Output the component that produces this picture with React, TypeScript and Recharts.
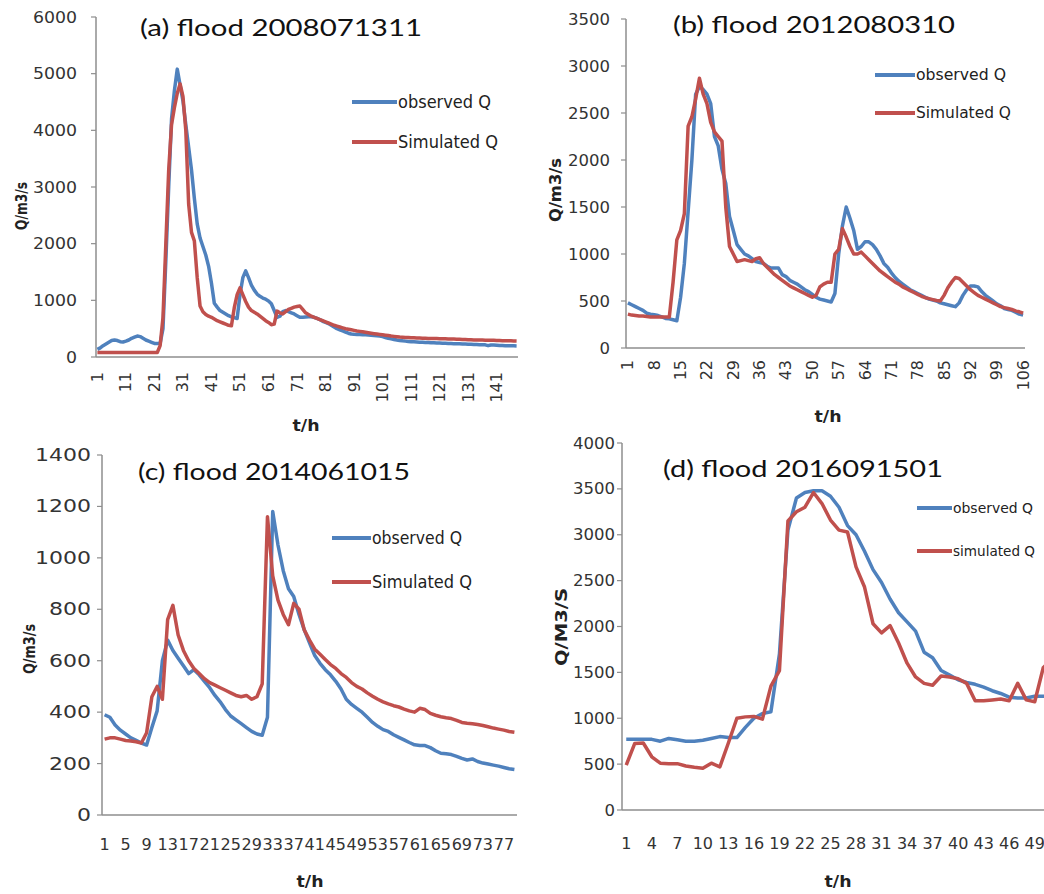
import React from 'react';
import { LineChart, Line, XAxis, YAxis } from 'recharts';

const BLUE = '#4F81BD';
const RED = '#C0504D';
const AXIS = '#8E8E8E';
const TXT = '#333333';
const FONT = '"DejaVu Sans", sans-serif';

// (a) flood 2008071311, t = 1..148
const aObserved = [
  135, 160, 200, 230, 260, 290, 300, 290, 270, 265,
  280, 300, 330, 350, 370, 360, 330, 300, 280, 260,
  240, 238, 240, 500, 1700, 3000, 4200, 4700, 5080, 4800,
  4520, 4100, 3700, 3300, 2800, 2350, 2100, 1950, 1800, 1600,
  1300, 950, 880, 820, 790, 760, 730, 710, 695, 680,
  1100, 1400, 1520, 1400, 1270, 1180, 1110, 1070, 1040, 1020,
  990, 940, 820, 700, 720, 800, 820, 800, 780, 760,
  730, 700, 700, 705, 710, 710, 700, 680, 660, 630,
  610, 590, 560, 530, 500, 480, 460, 440, 420, 405,
  400, 398, 396, 394, 392, 390, 385, 380, 375, 370,
  360, 345, 330, 320, 310, 300, 292, 285, 280, 275,
  270, 268, 265, 262, 260, 258, 255, 252, 250, 248,
  246, 244, 242, 240, 238, 236, 234, 232, 230, 228,
  226, 224, 222, 220, 218, 216, 214, 200, 212, 210,
  208, 205, 202, 200, 200, 200, 198, 196,
];
const aSimulated = [
  80, 80, 80, 80, 80, 80, 80, 80, 80, 80,
  80, 80, 80, 80, 80, 80, 80, 80, 80, 80,
  80, 80, 200, 700, 2000, 3300, 4100, 4400, 4650, 4820,
  4600, 4000, 2700, 2200, 2050, 1400, 900, 800, 750, 720,
  700, 670, 640, 620, 600, 580, 560, 550, 870, 1100,
  1220, 1100, 980, 880, 820, 790, 760, 720, 680, 640,
  610, 570, 580, 810, 780, 760, 800, 840, 860, 880,
  890, 900, 840, 780, 750, 720, 700, 680, 660, 640,
  620, 600, 580, 560, 545, 530, 515, 500, 490, 480,
  470, 460, 452, 444, 436, 428, 420, 412, 405, 398,
  392, 385, 378, 370, 364, 358, 352, 348, 345, 342,
  340, 338, 336, 334, 332, 330, 328, 327, 326, 325,
  324, 322, 320, 319, 318, 316, 314, 312, 310, 308,
  306, 304, 302, 300, 299, 298, 297, 296, 295, 294,
  292, 290, 288, 287, 286, 285, 284, 283,
];
const aYTicks = [0, 1000, 2000, 3000, 4000, 5000, 6000];

// (b) flood 2012080310, t = 1..106
const bObserved = [
  480, 460, 440, 420, 400, 370, 360, 355, 345, 330,
  315, 310, 300, 290, 540, 900, 1450, 2000, 2700, 2780,
  2750, 2700, 2600, 2250, 2150, 1900, 1750, 1400, 1250, 1100,
  1050, 1000, 980, 950, 920, 910, 900, 870, 850, 850,
  850, 780, 760, 720, 700, 680, 650, 620, 600, 570,
  540, 520, 510, 500, 490, 580, 1000, 1300, 1500, 1380,
  1250, 1050, 1080, 1130, 1130, 1100, 1050, 980, 900, 860,
  800, 750, 710, 680, 650, 620, 600, 580, 560, 540,
  520, 510, 500, 480, 470, 460, 450, 440, 480, 560,
  620, 660, 660, 650, 600, 560, 530, 500, 470, 450,
  420, 410, 400, 380, 360, 350,
];
const bSimulated = [
  360, 350, 345, 340, 340, 335, 330, 330, 330, 330,
  330, 330, 700, 1150, 1250, 1430, 2360, 2460, 2650, 2870,
  2700, 2600, 2400, 2300, 2250, 2200, 1500, 1080, 1000, 920,
  930, 940, 930, 920, 950, 960, 900, 860, 820, 780,
  750, 720, 690, 660, 640, 620, 600, 580, 560, 540,
  560, 650, 680, 700, 700, 1000, 1050, 1270, 1180, 1080,
  1000, 1000, 1020, 980, 940, 900, 860, 820, 790, 760,
  730, 700, 680, 650, 630, 610, 590, 570, 550, 535,
  525, 515, 505, 500, 560, 640, 700, 750, 740, 700,
  660, 620, 590, 560, 540, 520, 500, 480, 460, 440,
  430, 420, 410, 395, 385, 370,
];
const bYTicks = [0, 500, 1000, 1500, 2000, 2500, 3000, 3500];

// (c) flood 2014061015, t = 1..79
const cObserved = [
  390, 380, 350, 330, 315, 300, 290, 280, 272, 340,
  405, 600, 680, 640, 610, 580, 550, 565, 545, 520,
  495, 465, 440, 410, 385, 370, 355, 340, 325, 315,
  310, 380, 1180, 1050, 950, 880, 850, 780, 720, 670,
  620, 590, 565, 545, 520, 490, 450, 430, 415, 400,
  380, 360, 345, 332, 325, 312, 302, 292, 282, 273,
  270, 270, 262, 250, 240, 238, 235, 228, 220, 214,
  218, 208, 202, 198, 194, 190, 185, 180, 177,
];
const cSimulated = [
  295, 300, 300, 295, 290, 288, 285, 280, 320, 460,
  500, 450, 760, 815, 700, 640, 600, 570, 550, 530,
  515, 505, 495, 485, 475, 465, 460, 465, 450, 460,
  510, 1160, 930, 836, 780, 740, 823, 800, 720, 680,
  645, 625, 605, 585, 570, 550, 535, 515, 500, 490,
  475, 462, 450, 440, 432, 425, 420, 412, 405, 400,
  415, 410, 395, 388, 382, 378, 375, 368, 360, 357,
  355, 352, 348, 343, 338, 334, 330, 325, 322,
];
const cYTicks = [0, 200, 400, 600, 800, 1000, 1200, 1400];

// (d) flood 2016091501, t = 1..51 (the right end is cut off in the figure)
const dObserved = [
  770, 770, 770, 770, 750, 780, 765, 750, 750, 760,
  780, 800, 790, 790, 900, 1000, 1050, 1070, 1700, 3050,
  3400, 3460, 3480, 3480, 3420, 3300, 3100, 3000, 2820, 2620,
  2480, 2300, 2150, 2050, 1950, 1720, 1660, 1520, 1470, 1420,
  1390, 1370, 1340, 1300, 1270, 1230, 1220, 1220, 1240, 1240,
  1250,
];
const dSimulated = [
  490, 726, 730, 580, 510, 505, 505, 480, 465, 455,
  510, 470, 730, 1000, 1015, 1020, 990, 1350, 1520, 3150,
  3250, 3300, 3460, 3340, 3160, 3050, 3030, 2650, 2430, 2030,
  1930, 2010, 1820, 1600, 1450, 1380, 1360, 1460, 1450, 1430,
  1380, 1190, 1190, 1200, 1210, 1190, 1380, 1200, 1180, 1550,
  1650,
];
const dYTicks = [0, 500, 1000, 1500, 2000, 2500, 3000, 3500, 4000];

const toRows = (obs: number[], sim: number[]) =>
  obs.map((v, i) => ({ t: i + 1, observed: v, simulated: sim[i] }));

const yTick = (fontSize: number, digitW: number) => (p: any) => {
  const s = String(p.payload.value);
  return (
    <text
      x={p.x}
      y={p.y}
      textAnchor="end"
      dominantBaseline="central"
      fontSize={fontSize}
      fontFamily={FONT}
      fill={TXT}
      textLength={s.length * digitW}
      lengthAdjust="spacingAndGlyphs"
    >
      {s}
    </text>
  );
};

const vTick = (fontSize: number) => (p: any) => (
  <text
    x={p.x}
    y={p.y}
    transform={`rotate(-90 ${p.x} ${p.y})`}
    textAnchor="end"
    dominantBaseline="central"
    fontSize={fontSize}
    fontFamily={FONT}
    fill={TXT}
  >
    {p.payload.value}
  </text>
);

const hTick = (fontSize: number) => (p: any) => (
  <text
    x={p.x}
    y={p.y + fontSize * 0.73}
    textAnchor="middle"
    fontSize={fontSize}
    fontFamily={FONT}
    fill={TXT}
  >
    {p.payload.value}
  </text>
);

interface PanelProps {
  rows: { t: number; observed: number; simulated: number }[];
  left: number;
  top: number;
  width: number;
  height: number;
  margin: { top: number; right: number; bottom: number; left: number };
  yTicks: number[];
  xInterval: number;
  xPad: number;
  xTickMargin: number;
  xTickEl: (p: any) => React.ReactElement;
  yTickMargin: number;
  yTickEl: (p: any) => React.ReactElement;
}

// axis boxes are 1px wide/high, so margin.left/bottom are one less than the plot edge
const Panel: React.FC<PanelProps> = (p) => (
  <div style={{ position: 'absolute', left: p.left, top: p.top }}>
    <LineChart width={p.width} height={p.height} data={p.rows} margin={p.margin}>
      <XAxis
        dataKey="t"
        type="category"
        interval={p.xInterval}
        height={1}
        padding={{ left: p.xPad, right: p.xPad }}
        axisLine={{ stroke: AXIS, strokeWidth: 1.5 }}
        tickLine={false}
        tickSize={0}
        tickMargin={p.xTickMargin}
        tick={p.xTickEl}
      />
      <YAxis
        type="number"
        domain={[0, p.yTicks[p.yTicks.length - 1]]}
        ticks={p.yTicks}
        interval={0}
        width={1}
        axisLine={{ stroke: AXIS, strokeWidth: 1.5 }}
        tickLine={{ stroke: AXIS, strokeWidth: 1.2 }}
        tickSize={5}
        tickMargin={p.yTickMargin}
        tick={p.yTickEl}
      />
      <Line
        type="linear"
        dataKey="observed"
        stroke={BLUE}
        strokeWidth={3.5}
        dot={false}
        strokeLinejoin="round"
        isAnimationActive={false}
      />
      <Line
        type="linear"
        dataKey="simulated"
        stroke={RED}
        strokeWidth={3.5}
        dot={false}
        strokeLinejoin="round"
        isAnimationActive={false}
      />
    </LineChart>
  </div>
);

const Title = ({ x, y, w, text }: { x: number; y: number; w: number; text: string }) => (
  <text x={x} y={y} fontSize={24} fontFamily="Lato, sans-serif" fill="#111" textLength={w} lengthAdjust="spacingAndGlyphs">
    {text}
  </text>
);

const LegendItem = ({ x, y, lineW, w, size, color, text }: any) => (
  <g>
    <line x1={x} x2={x + lineW} y1={y} y2={y} stroke={color} strokeWidth={4} />
    <text
      x={x + lineW + 1}
      y={y}
      dy={size * 0.36}
      fontSize={size}
      fontFamily={FONT}
      fill="#222"
      textLength={w}
      lengthAdjust="spacingAndGlyphs"
    >
      {text}
    </text>
  </g>
);

const YTitle = ({ x, y, len, size, text }: any) => (
  <text
    transform={`translate(${x},${y}) rotate(-90)`}
    textAnchor="middle"
    fontSize={size}
    fontWeight="bold"
    fontFamily={FONT}
    fill="#222"
    textLength={len}
    lengthAdjust="spacingAndGlyphs"
  >
    {text}
  </text>
);

const XTitle = ({ x, y }: any) => (
  <text x={x} y={y} textAnchor="middle" fontSize={16} fontWeight="bold" fontFamily={FONT} fill="#222" textLength={27} lengthAdjust="spacingAndGlyphs">
    t/h
  </text>
);

export default function App() {
  return (
    <div style={{ position: 'absolute', left: 0, top: 0, width: 1044, height: 894, overflow: 'hidden', background: '#fff' }}>
      <Panel
        rows={toRows(aObserved, aSimulated)}
        left={0}
        top={0}
        width={540}
        height={440}
        margin={{ top: 17, left: 95, right: 22, bottom: 82 }}
        yTicks={aYTicks}
        xInterval={9}
        xPad={1.4}
        xTickMargin={15}
        xTickEl={vTick(16)}
        yTickMargin={14}
        yTickEl={yTick(16, 11)}
      />
      <Panel
        rows={toRows(bObserved, bSimulated)}
        left={540}
        top={0}
        width={504}
        height={430}
        margin={{ top: 19, left: 85, right: 19, bottom: 81 }}
        yTicks={bYTicks}
        xInterval={6}
        xPad={1.9}
        xTickMargin={12}
        xTickEl={vTick(16)}
        yTickMargin={11}
        yTickEl={yTick(16, 10.5)}
      />
      <Panel
        rows={toRows(cObserved, cSimulated)}
        left={0}
        top={440}
        width={540}
        height={454}
        margin={{ top: 15, left: 101, right: 23, bottom: 78 }}
        yTicks={cYTicks}
        xInterval={3}
        xPad={2.6}
        xTickMargin={23}
        xTickEl={hTick(16)}
        yTickMargin={6}
        yTickEl={yTick(17, 14)}
      />
      <Panel
        rows={toRows(dObserved, dSimulated)}
        left={530}
        top={430}
        width={600}
        height={464}
        margin={{ top: 13, left: 91, right: 74, bottom: 83 }}
        yTicks={dYTicks}
        xInterval={2}
        xPad={4.25}
        xTickMargin={27}
        xTickEl={hTick(16)}
        yTickMargin={2}
        yTickEl={yTick(16, 10.5)}
      />
      <svg width={1044} height={894} style={{ position: 'absolute', left: 0, top: 0, pointerEvents: 'none' }}>
        <Title x={140} y={36} w={282} text="(a) flood 2008071311" />
        <Title x={673} y={33} w={282} text="(b) flood 2012080310" />
        <Title x={138} y={480} w={272} text="(c) flood 2014061015" />
        <Title x={663} y={477} w={280} text="(d) flood 2016091501" />

        <LegendItem x={352} y={102} lineW={45} w={93} size={17} color={BLUE} text="observed Q" />
        <LegendItem x={352} y={142} lineW={45} w={100} size={17} color={RED} text="Simulated Q" />
        <LegendItem x={875} y={75} lineW={40} w={90} size={15} color={BLUE} text="observed Q" />
        <LegendItem x={875} y={113} lineW={40} w={95} size={15} color={RED} text="Simulated Q" />
        <LegendItem x={332} y={538} lineW={39} w={90} size={17} color={BLUE} text="observed Q" />
        <LegendItem x={332} y={582} lineW={39} w={100} size={17} color={RED} text="Simulated  Q" />
        <LegendItem x={917} y={508} lineW={35} w={80} size={14} color={BLUE} text=" observed Q" />
        <LegendItem x={917} y={551} lineW={35} w={82} size={14} color={RED} text="simulated Q" />

        <YTitle x={27} y={206} len={48} size={15} text="Q/m3/s" />
        <YTitle x={561} y={190} len={64} size={16} text="Q/m3/s" />
        <YTitle x={35} y={649} len={50} size={15} text="Q/m3/s" />
        <YTitle x={567} y={627} len={78} size={16} text="Q/M3/S" />

        <XTitle x={306} y={431} />
        <XTitle x={828} y={422} />
        <XTitle x={310} y={887} />
        <XTitle x={838} y={887} />
      </svg>
    </div>
  );
}
